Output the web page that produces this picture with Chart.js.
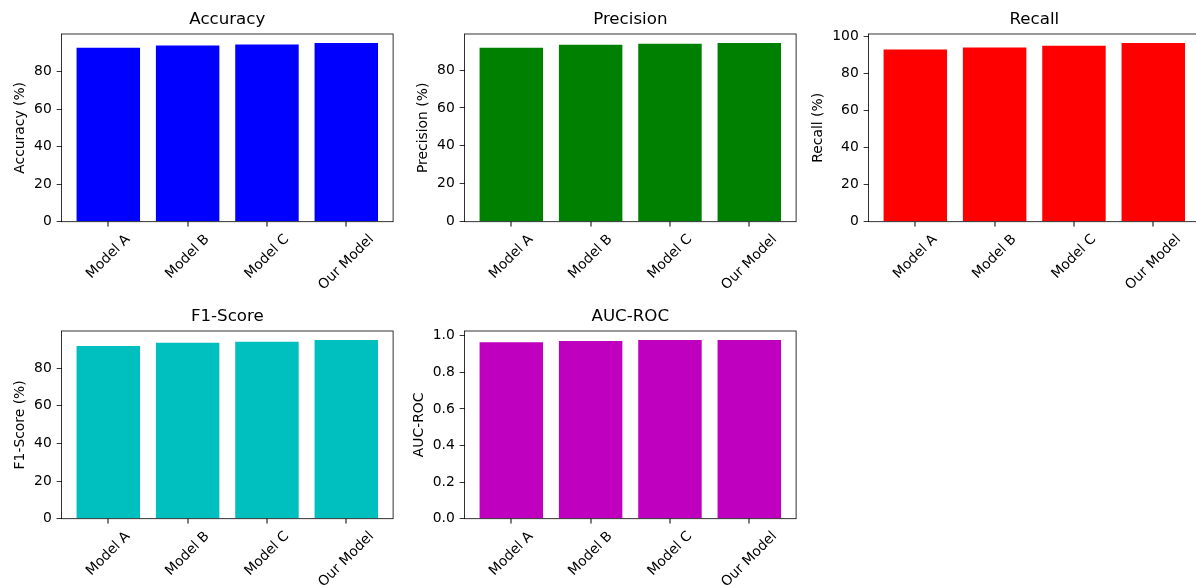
<!DOCTYPE html>
<html>
<head>
<meta charset="utf-8">
<script src="https://cdn.jsdelivr.net/npm/chart.js@4.4.1/dist/chart.umd.min.js"></script>
<style>
  html, body { margin: 0; padding: 0; background: #fff; overflow: hidden; }
  #fig { position: relative; width: 1196px; height: 587px; overflow: hidden; background: #fff; }
  #fig canvas { position: absolute; }
</style>
</head>
<body>
<div id="fig"></div>
<script>
// data
const models = ['Model A', 'Model B', 'Model C', 'Our Model']
const accuracy = [92.6, 93.8, 94.4, 95.2]
const precision = [91.7, 93.4, 93.9, 94.3]
const recall = [93.0, 94.1, 95.1, 96.6]
const f1Score = [91.8, 93.5, 94.1, 95.0]
const aucRoc = [0.965, 0.971, 0.976, 0.977]

// matplotlib-ish sizes (100 dpi)
const PT = 100 / 72
const FONT = '"DejaVu Sans", "Liberation Sans", sans-serif'
const TICK_SIZE = 10 * PT
const TITLE_SIZE = 12 * PT
const TICK_LEN = 3.5 * PT
const TICK_PAD = 3.5 * PT
const LABEL_PAD = 4 * PT

// panel layout: canvas cell, axes box inside it
const CELL_W = 400
const CELL_H = 300
const AX_LEFT = 61.5
const AX_WIDTH = 331.6
const AX_BOTTOM = 221.7

const panels = [
  { title: 'Accuracy', ylabel: 'Accuracy (%)', values: accuracy, color: '#0000ff', step: 20, x: 0, y: 0 },
  { title: 'Precision', ylabel: 'Precision (%)', values: precision, color: '#008000', step: 20, x: 403, y: 0 },
  { title: 'Recall', ylabel: 'Recall (%)', values: recall, color: '#ff0000', step: 20, x: 807, y: 0 },
  { title: 'F1-Score', ylabel: 'F1-Score (%)', values: f1Score, color: '#00bfbf', step: 20, x: 0, y: 297 },
  { title: 'AUC-ROC', ylabel: 'AUC-ROC', values: aucRoc, color: '#bf00bf', step: 0.2, x: 403, y: 297 },
]

Chart.defaults.font.family = FONT
Chart.defaults.font.size = TICK_SIZE
Chart.defaults.color = '#000'

const measureCtx = document.createElement('canvas').getContext('2d')
function textWidth(text, size) {
  measureCtx.font = `${size}px ${FONT}`
  return measureCtx.measureText(text).width
}

function fmtTick(value, step) {
  return step < 1 ? value.toFixed(1) : String(Math.round(value))
}

// spines on all four sides
const framePlugin = {
  id: 'frame',
  afterDatasetsDraw(chart) {
    const { ctx, chartArea: a } = chart
    ctx.save()
    ctx.strokeStyle = '#000'
    ctx.lineWidth = 0.8
    ctx.strokeRect(a.left, a.top, a.right - a.left, a.bottom - a.top)
    ctx.restore()
  },
}

// x tick marks + labels rotated 45deg, bbox centred under the tick like matplotlib
const xLabelPlugin = {
  id: 'xLabels',
  afterDraw(chart) {
    const { ctx, chartArea } = chart
    const scale = chart.scales.x
    const h = TICK_SIZE * 1.164
    ctx.save()
    ctx.font = `${TICK_SIZE}px ${FONT}`
    ctx.fillStyle = '#000'
    ctx.textAlign = 'center'
    ctx.textBaseline = 'middle'
    models.forEach((label, i) => {
      const px = scale.getPixelForValue(i)
      ctx.fillRect(Math.round(px) - 0.5, chartArea.bottom, 1, TICK_LEN)

      const w = ctx.measureText(label).width
      const box = (w + h) * Math.SQRT1_2
      const cy = chartArea.bottom + TICK_LEN + TICK_PAD + box / 2
      ctx.save()
      ctx.translate(px, cy)
      ctx.rotate(-Math.PI / 4)
      ctx.fillText(label, 0, 0)
      ctx.restore()
    })
    ctx.restore()
  },
}

const fig = document.getElementById('fig')

panels.forEach((p) => {
  const canvas = document.createElement('canvas')
  canvas.width = CELL_W
  canvas.height = CELL_H
  canvas.style.left = p.x + 'px'
  canvas.style.top = p.y + 'px'
  canvas.style.width = CELL_W + 'px'
  canvas.style.height = CELL_H + 'px'
  fig.appendChild(canvas)

  // matplotlib autoscale: 5% headroom above the tallest bar
  const yMax = Math.max(...p.values) * 1.05
  const yTicks = []
  for (let i = 0; i * p.step <= yMax + 1e-9; i++) yTicks.push(i * p.step)
  const widest = Math.max(...yTicks.map((t) => textWidth(fmtTick(t, p.step), TICK_SIZE)))
  const titleLine = TICK_SIZE * 1.2
  const yTitlePad =
    AX_LEFT - TICK_LEN - TICK_PAD - widest - LABEL_PAD - (TICK_SIZE * 1.164) / 2 - titleLine / 2

  new Chart(canvas.getContext('2d'), {
    type: 'bar',
    data: {
      datasets: [
        {
          label: p.title,
          data: p.values.map((v, i) => ({ x: i, y: v })),
          backgroundColor: p.color,
          borderWidth: 0,
          categoryPercentage: 1,
          barPercentage: 0.8,
        },
      ],
    },
    options: {
      responsive: false,
      animation: false,
      devicePixelRatio: 1,
      layout: { padding: { left: 0, top: 0, bottom: 0, right: CELL_W - AX_LEFT - AX_WIDTH } },
      plugins: {
        legend: { display: false },
        tooltip: { enabled: false },
        title: {
          display: true,
          text: p.title,
          fullSize: false,
          color: '#000',
          font: { size: TITLE_SIZE, weight: 'normal', family: FONT, lineHeight: 1.2 },
          padding: { top: 10, bottom: 4 },
        },
      },
      scales: {
        x: {
          type: 'linear',
          offset: false,
          min: -0.59,
          max: 3.59,
          border: { display: false },
          grid: { display: false },
          ticks: { display: false },
          afterFit: (scale) => {
            scale.height = CELL_H - AX_BOTTOM
          },
        },
        y: {
          type: 'linear',
          min: 0,
          max: yMax,
          border: { display: false },
          grid: {
            display: true,
            drawOnChartArea: false,
            drawTicks: true,
            tickLength: TICK_LEN,
            tickWidth: 0.8,
            tickColor: '#000',
          },
          ticks: {
            padding: TICK_PAD,
            color: '#000',
            font: { size: TICK_SIZE, family: FONT },
            callback: (value) => fmtTick(value, p.step),
          },
          afterBuildTicks: (scale) => {
            scale.ticks = yTicks.map((v) => ({ value: v }))
          },
          title: {
            display: true,
            text: p.ylabel,
            color: '#000',
            font: { size: TICK_SIZE, family: FONT, lineHeight: 1.2 },
            padding: { top: yTitlePad, bottom: 0 },
          },
          afterFit: (scale) => {
            scale.width = AX_LEFT
          },
        },
      },
    },
    plugins: [framePlugin, xLabelPlugin],
  })
})
</script>
</body>
</html>
